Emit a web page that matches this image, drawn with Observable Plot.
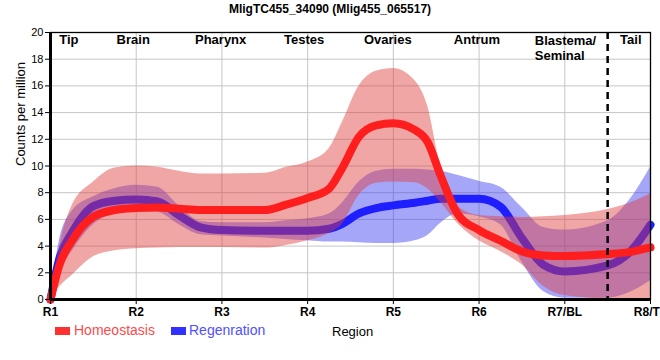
<!DOCTYPE html>
<html>
<head>
<meta charset="utf-8">
<script src="https://cdn.jsdelivr.net/npm/d3@7"></script>
<script src="https://cdn.jsdelivr.net/npm/@observablehq/plot@0.6"></script>
<style>
  body { margin: 0; background: #fff; font-family: "Liberation Sans", Arial, sans-serif; }
  #wrap { position: relative; width: 660px; height: 360px; overflow: hidden; }
  #wrap svg { position: absolute; left: 0; top: 0; }
  .abs { position: absolute; white-space: nowrap; }
  #title { left: 0; width: 660px; top: 2px; text-align: center; font-weight: bold; font-size: 12px; color: #000; }
  .sw { position: absolute; width: 15px; height: 8px; }
  .lg { position: absolute; font-size: 14px; line-height: 14px; }
</style>
</head>
<body>
<div id="wrap">
  <div id="title" class="abs">MligTC455_34090 (Mlig455_065517)</div>
</div>
<script>
// ---- data ----
const regionTicks = ["R1", "R2", "R3", "R4", "R5", "R6", "R7/BL", "R8/TL"];
const tickPos = [1, 2, 3, 4, 5, 6, 7, 8];
const yTicks = [0, 2, 4, 6, 8, 10, 12, 14, 16, 18, 20];
const regionNames = ["Tip", "Brain", "Pharynx", "Testes", "Ovaries", "Antrum", "Blastema/\nSeminal", "Tail"];
const regionLabelX = [1.215, 1.965, 2.985, 3.96, 4.935, 5.975, 6.65, 7.77];
const seriesNames = ["Homeostasis", "Regenration"];

const pos        = [1, 1.1, 1.25, 1.5, 1.75, 2, 2.25, 2.5, 2.75, 3, 3.5, 3.75, 4, 4.25, 4.4, 4.6, 4.8, 5, 5.25, 5.4, 5.55, 5.75, 6, 6.25, 6.5, 6.75, 7, 7.5, 7.75, 8];
const homeoMean  = [0, 2.5, 4.4, 6.2, 6.7, 6.85, 6.9, 6.8, 6.7, 6.7, 6.7, 7.1, 7.6, 8.3, 9.8, 12.2, 13.05, 13.2, 12.7, 11.8, 9.3, 6.4, 5.2, 4.4, 3.6, 3.3, 3.25, 3.4, 3.55, 3.9];
const homeoHi    = [0, 3.8, 7.0, 8.8, 9.85, 10.0, 9.9, 9.6, 9.4, 9.4, 9.45, 9.9, 10.3, 11.3, 13.2, 16.0, 17.1, 17.3, 16.4, 14.5, 10.0, 7.0, 6.3, 6.2, 6.15, 6.2, 6.3, 6.75, 7.2, 7.9];
const homeoLo    = [0, 0.9, 1.8, 3.2, 3.65, 3.8, 3.85, 3.9, 3.9, 3.9, 3.85, 4.05, 4.4, 4.95, 5.6, 7.8, 8.7, 8.8, 8.75, 8.3, 7.3, 5.7, 4.4, 3.6, 2.6, 1.0, 0.3, 0.05, 0.05, 0];
const regenMean  = [0, 3.0, 5.0, 7.0, 7.4, 7.5, 7.35, 6.3, 5.4, 5.2, 5.15, 5.15, 5.15, 5.3, 5.65, 6.45, 6.85, 7.05, 7.25, 7.4, 7.55, 7.55, 7.55, 6.95, 4.6, 2.6, 2.1, 2.55, 3.5, 5.6];
const regenHi    = [0, 4.3, 6.6, 7.7, 8.3, 8.55, 8.4, 7.0, 5.85, 5.75, 5.75, 5.9, 6.05, 6.4, 7.2, 8.8, 9.6, 9.75, 9.75, 9.7, 9.6, 9.3, 8.85, 8.4, 6.9, 5.4, 5.2, 5.9, 7.4, 9.9];
const regenLo    = [0, 2.0, 3.6, 5.6, 6.4, 6.65, 6.55, 5.6, 4.85, 4.75, 4.6, 4.5, 4.4, 4.3, 4.3, 4.25, 4.2, 4.2, 4.4, 4.8, 5.7, 6.4, 6.2, 5.6, 2.8, 0.6, 0.1, 0.1, 0.5, 1.4];

const rows = pos.map((x, i) => ({
  x, hm: homeoMean[i], hh: homeoHi[i], hl: homeoLo[i],
  rm: regenMean[i], rh: regenHi[i], rl: regenLo[i]
}));

const RED_LINE = "#ff1e1e", BLUE_LINE = "#1e1eff";
const curve = "monotone-x";

const chart = Plot.plot({
  width: 660, height: 360,
  marginTop: 32, marginBottom: 61, marginLeft: 50, marginRight: 10,
  style: { fontFamily: "'Liberation Sans', Arial, sans-serif", background: "transparent", color: "#000", overflow: "visible" },
  x: { domain: [1, 8] },
  y: { domain: [0, 20] },
  marks: [
    Plot.gridX(tickPos, { stroke: "#c6c6c6", strokeOpacity: 1, strokeWidth: 1 }),
    Plot.gridY(yTicks, { stroke: "#c6c6c6", strokeOpacity: 1, strokeWidth: 1 }),
    Plot.areaY(rows, { x: "x", y1: "rl", y2: "rh", curve, fill: "#3a3af0", fillOpacity: 0.45 }),
    Plot.line(rows, { x: "x", y: "rm", curve, stroke: BLUE_LINE, strokeWidth: 8 }),
    Plot.areaY(rows, { x: "x", y1: "hl", y2: "hh", curve, fill: "#e03a3a", fillOpacity: 0.45 }),
    Plot.line(rows, { x: "x", y: "hm", curve, stroke: RED_LINE, strokeWidth: 8 }),
    Plot.ruleX([7.5], { stroke: "#000", strokeWidth: 2.5, strokeDasharray: "7,5" }),
    Plot.frame({ stroke: "#000", strokeWidth: 1.3 }),
    Plot.ruleX([1], { stroke: "#000", strokeWidth: 3 }),
    Plot.ruleY([0], { stroke: "#000", strokeWidth: 3 }),
    Plot.axisX(tickPos, { tickFormat: d => regionTicks[d - 1], fontWeight: "bold", fontSize: 12, tickSize: 5, tickPadding: 3, label: null }),
    Plot.axisY(yTicks, { fontSize: 11, tickSize: 5, tickPadding: 2, label: null }),
    Plot.text(regionNames.slice(0, 6).concat([regionNames[7]]), {
      x: regionLabelX.slice(0, 6).concat([regionLabelX[7]]), text: d => d,
      frameAnchor: "top", lineAnchor: "top", dy: 2, fontWeight: "bold", fontSize: 13, fill: "#000"
    }),
    Plot.text([regionNames[6]], {
      x: [regionLabelX[6]], text: d => d, textAnchor: "start",
      frameAnchor: "top", lineAnchor: "top", dy: 2, lineHeight: 1.15, fontWeight: "bold", fontSize: 13, fill: "#000"
    }),
    Plot.text(["Counts per million"], {
      text: d => d, frameAnchor: "left", rotate: -90, dx: -30, fontSize: 13, fill: "#000"
    })
  ]
});

const wrap = document.getElementById("wrap");
wrap.appendChild(chart);

function add(html) { wrap.insertAdjacentHTML("beforeend", html); }
add(`<div class="sw" style="left:55px;top:327px;background:#ff3030"></div>`);
add(`<div class="lg" style="left:74px;top:323px;color:#ff4a4a">${seriesNames[0]}</div>`);
add(`<div class="sw" style="left:171px;top:327px;background:#3030ff"></div>`);
add(`<div class="lg" style="left:189px;top:323px;color:#5050ff">${seriesNames[1]}</div>`);
add(`<div class="lg" style="left:332px;top:325px;color:#000;font-size:13px">Region</div>`);
</script>
</body>
</html>
